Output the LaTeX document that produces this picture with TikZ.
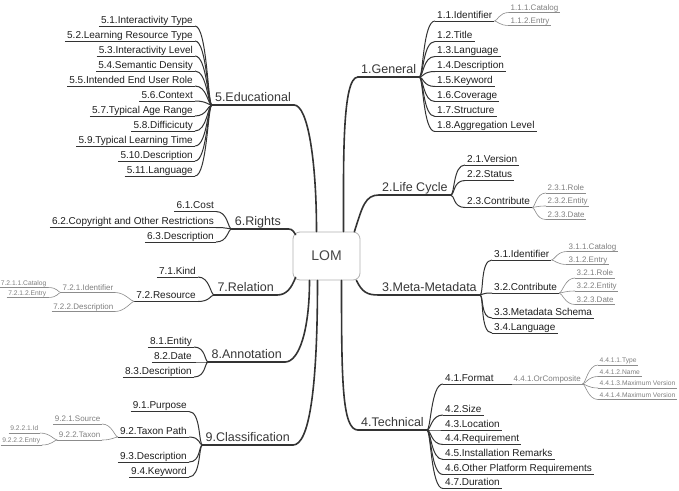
\documentclass[tikz,border=0pt]{standalone}
\usepackage{fontspec}
\setmainfont{Liberation Sans}
\usetikzlibrary{calc}
\begin{document}
\begin{tikzpicture}[x=1pt,y=-1pt,
  mainn/.style={font=\fontsize{12.5}{14}\selectfont, text=black!78, inner xsep=3pt, inner ysep=3pt, text height=9pt, text depth=0pt},
  subn/.style={font=\fontsize{10}{12}\selectfont, text=black!88, inner xsep=2pt, inner ysep=2.5pt, text height=7.5pt, text depth=0pt},
  tinyn/.style={font=\fontsize{8}{9}\selectfont, text=black!50, inner xsep=1.5pt, inner ysep=2pt, text height=6pt, text depth=0pt},
  smallt/.style={font=\fontsize{6.7}{8}\selectfont},
  R/.style={anchor=south west}, L/.style={anchor=south east},
  mline/.style={draw=black!80, line width=1.6pt, line cap=round},
  sline/.style={draw=black!80, line width=1pt},
  tline/.style={draw=black!45, line width=0.6pt},
]
\useasboundingbox (0,0) rectangle (679,490);
\fill[white] (0,0) rectangle (679,490);

% centre
\node[draw=black!30, line width=0.8pt, rounded corners=7pt, minimum width=67pt, minimum height=48pt,
      font=\fontsize{14}{16}\selectfont, text=black!72] (lom) at (326.5,256) {LOM};

% ---------- 1 General
\node[mainn,R] (gen) at (358,77) {1.General};
\node[subn,R] (g1) at (435,21) {1.1.Identifier};
\node[tinyn,R] (g11) at (509,12.5) {1.1.1.Catalog};
\node[tinyn,R] (g12) at (509,25.5) {1.1.2.Entry};
\node[subn,R] (g2) at (435,41.5) {1.2.Title};
\node[subn,R] (g3) at (435,56.5) {1.3.Language};
\node[subn,R] (g4) at (435,71.5) {1.4.Description};
\node[subn,R] (g5) at (435,86.5) {1.5.Keyword};
\node[subn,R] (g6) at (435,101.5) {1.6.Coverage};
\node[subn,R] (g7) at (435,116.5) {1.7.Structure};
\node[subn,R] (g8) at (435,131.5) {1.8.Aggregation Level};

% ---------- 2 Life Cycle
\node[mainn,R] (lc) at (379,195) {2.Life Cycle};
\node[subn,R] (l1) at (465,165) {2.1.Version};
\node[subn,R] (l2) at (465,180.5) {2.2.Status};
\node[subn,R] (l3) at (465,207.5) {2.3.Contribute};
\node[tinyn,R] (l31) at (546,193) {2.3.1.Role};
\node[tinyn,R] (l32) at (546,206) {2.3.2.Entity};
\node[tinyn,R] (l33) at (546,219.5) {2.3.3.Date};

% ---------- 3 Meta-Metadata
\node[mainn,R] (mm) at (379,295) {3.Meta-Metadata};
\node[subn,R] (m1) at (492,260) {3.1.Identifier};
\node[tinyn,R] (m11) at (567,251.5) {3.1.1.Catalog};
\node[tinyn,R] (m12) at (567,264.5) {3.1.2.Entry};
\node[subn,R] (m2) at (492,293) {3.2.Contribute};
\node[tinyn,R] (m21) at (575,278) {3.2.1.Role};
\node[tinyn,R] (m22) at (575,291) {3.2.2.Entity};
\node[tinyn,R] (m23) at (575,304.5) {3.2.3.Date};
\node[subn,R] (m3) at (492,318) {3.3.Metadata Schema};
\node[subn,R] (m4) at (492,333) {3.4.Language};

% ---------- 4 Technical
\node[mainn,R] (tech) at (358,430) {4.Technical};
\node[subn,R] (t1) at (443,384) {4.1.Format};
\node[tinyn,R] (t11) at (512,384) {4.4.1.OrComposite};
\node[tinyn,smallt,R] (t111) at (598,365) {4.4.1.1.Type};
\node[tinyn,smallt,R] (t112) at (598,376.5) {4.4.1.2.Name};
\node[tinyn,smallt,R] (t113) at (598,388) {4.4.1.3.Maximum Version};
\node[tinyn,smallt,R] (t114) at (598,399.5) {4.4.1.4.Maximum Version};
\node[subn,R] (t2) at (443,415) {4.2.Size};
\node[subn,R] (t3) at (443,430) {4.3.Location};
\node[subn,R] (t4) at (443,444.5) {4.4.Requirement};
\node[subn,R] (t5) at (443,459.5) {4.5.Installation Remarks};
\node[subn,R] (t6) at (443,474.5) {4.6.Other Platform Requirements};
\node[subn,R] (t7) at (443,488.5) {4.7.Duration};

% ---------- 5 Educational
\node[mainn,L] (edu) at (294,105) {5.Educational};
\node[subn,L] (e1) at (195,26) {5.1.Interactivity Type};
\node[subn,L] (e2) at (195,41) {5.2.Learning Resource Type};
\node[subn,L] (e3) at (195,56) {5.3.Interactivity Level};
\node[subn,L] (e4) at (195,71) {5.4.Semantic Density};
\node[subn,L] (e5) at (195,86) {5.5.Intended End User Role};
\node[subn,L] (e6) at (195,101) {5.6.Context};
\node[subn,L] (e7) at (195,116) {5.7.Typical Age Range};
\node[subn,L] (e8) at (195,131) {5.8.Difficicuty};
\node[subn,L] (e9) at (195,146) {5.9.Typical Learning Time};
\node[subn,L] (e10) at (195,161) {5.10.Description};
\node[subn,L] (e11) at (195,176) {5.11.Language};

% ---------- 6 Rights
\node[mainn,L] (rights) at (284,229) {6.Rights};
\node[subn,L] (r1) at (216,211.5) {6.1.Cost};
\node[subn,L] (r2) at (216,227.5) {6.2.Copyright and Other Restrictions};
\node[subn,L] (r3) at (216,242) {6.3.Description};

% ---------- 7 Relation
\node[mainn,L] (rel) at (277,295) {7.Relation};
\node[subn,L] (x1) at (198,277) {7.1.Kind};
\node[subn,L] (x2) at (198,301.5) {7.2.Resource};
\node[tinyn,L] (x21) at (115,292.5) {7.2.1.Identifier};
\node[tinyn,L] (x22) at (115,311.5) {7.2.2.Description};
\node[tinyn,smallt,L] (x211) at (48,287.5) {7.2.1.1.Catalog};
\node[tinyn,smallt,L] (x212) at (48,297.5) {7.2.1.2.Entry};

% ---------- 8 Annotation
\node[mainn,L] (annot) at (285,362) {8.Annotation};
\node[subn,L] (a1) at (194,347) {8.1.Entity};
\node[subn,L] (a2) at (194,362) {8.2.Date};
\node[subn,L] (a3) at (194,377) {8.3.Description};

% ---------- 9 Classification
\node[mainn,L] (cls) at (293,445) {9.Classification};
\node[subn,L] (c1) at (189,411.5) {9.1.Purpose};
\node[subn,L] (c2) at (189,437) {9.2.Taxon Path};
\node[tinyn,L] (c21) at (102,424) {9.2.1.Source};
\node[tinyn,L] (c22) at (102,440) {9.2.2.Taxon};
\node[tinyn,smallt,L] (c221) at (40,433) {9.2.2.1.Id};
\node[tinyn,smallt,L] (c222) at (42,445) {9.2.2.2.Entry};
\node[subn,L] (c3) at (189,462) {9.3.Description};
\node[subn,L] (c4) at (189,477) {9.4.Keyword};

% ---------- underlines
\foreach \n in {gen,lc,mm,tech,edu,rights,rel,annot,cls}
  \draw[mline] (\n.south west) -- (\n.south east);
\foreach \n in {g1,g2,g3,g4,g5,g6,g7,g8,l1,l2,l3,m1,m2,m3,m4,t1,t2,t3,t4,t5,t6,t7,
                e1,e2,e3,e4,e5,e6,e7,e8,e9,e10,e11,r1,r2,r3,x1,x2,a1,a2,a3,c1,c2,c3,c4}
  \draw[sline] (\n.south west) -- (\n.south east);
\foreach \n in {g11,g12,l31,l32,l33,m11,m12,m21,m22,m23,t11,t111,t112,t113,t114,
                x21,x22,x211,x212,c21,c22,c221,c222}
  \draw[tline] (\n.south west) -- (\n.south east);

% ---------- main connectors
\draw[mline] ($(lom.north)+(17,0)$) .. controls +(0,-70) and +(-16,0) .. (gen.south west);
\draw[mline] ($(lom.north east)+(-6,0)$) .. controls +(8,-25) and +(-14,0) .. (lc.south west);
\draw[mline] ($(lom.south east)+(-4,0)$) .. controls +(6,12) and +(-12,0) .. (mm.south west);
\draw[mline] ($(lom.south)+(15,0)$) .. controls +(0,100) and +(-16,0) .. (tech.south west);
\draw[mline] ($(lom.north)+(-10,0)$) .. controls +(0,-70) and +(14,0) .. (edu.south east);
\draw[mline] ($(lom.north west)+(3,3)$) .. controls +(-4,-6) and +(8,0) .. (rights.south east);
\draw[mline] ($(lom.south west)+(3,-3)$) .. controls +(-4,10) and +(10,0) .. (rel.south east);
\draw[mline] ($(lom.south)+(-17,0)$) .. controls +(0,50) and +(14,0) .. (annot.south east);
\draw[mline] ($(lom.south)+(-9,0)$) .. controls +(0,110) and +(16,0) .. (cls.south east);

% ---------- right-side sub connectors
\foreach \p/\c in {gen/g1,gen/g2,gen/g3,gen/g4,gen/g5,gen/g6,gen/g7,gen/g8,
                   lc/l1,lc/l2,lc/l3,mm/m1,mm/m2,mm/m3,mm/m4,
                   tech/t1,tech/t2,tech/t3,tech/t4,tech/t5,tech/t6,tech/t7}
  \draw[sline] (\p.south east) .. controls +(4,0) and +(-12,0) .. (\c.south west);
\foreach \p/\c in {g1/g11,g1/g12,l3/l31,l3/l32,l3/l33,m1/m11,m1/m12,
                   m2/m21,m2/m22,m2/m23,t11/t111,t11/t112,t11/t113,t11/t114}
  \draw[tline] (\p.south east) .. controls +(3,0) and +(-10,0) .. (\c.south west);
\draw[sline] (t1.south east) -- (t11.south west);

% ---------- left-side sub connectors
\foreach \p/\c in {edu/e1,edu/e2,edu/e3,edu/e4,edu/e5,edu/e6,edu/e7,edu/e8,edu/e9,edu/e10,edu/e11,
                   rights/r1,rights/r2,rights/r3,rel/x1,rel/x2,annot/a1,annot/a2,annot/a3,
                   cls/c1,cls/c2,cls/c3,cls/c4}
  \draw[sline] (\p.south west) .. controls +(-4,0) and +(12,0) .. (\c.south east);
\foreach \p/\c in {x2/x21,x2/x22,x21/x211,x21/x212,c2/c21,c2/c22,c22/c221,c22/c222}
  \draw[tline] (\p.south west) .. controls +(-3,0) and +(10,0) .. (\c.south east);
\end{tikzpicture}
\end{document}
